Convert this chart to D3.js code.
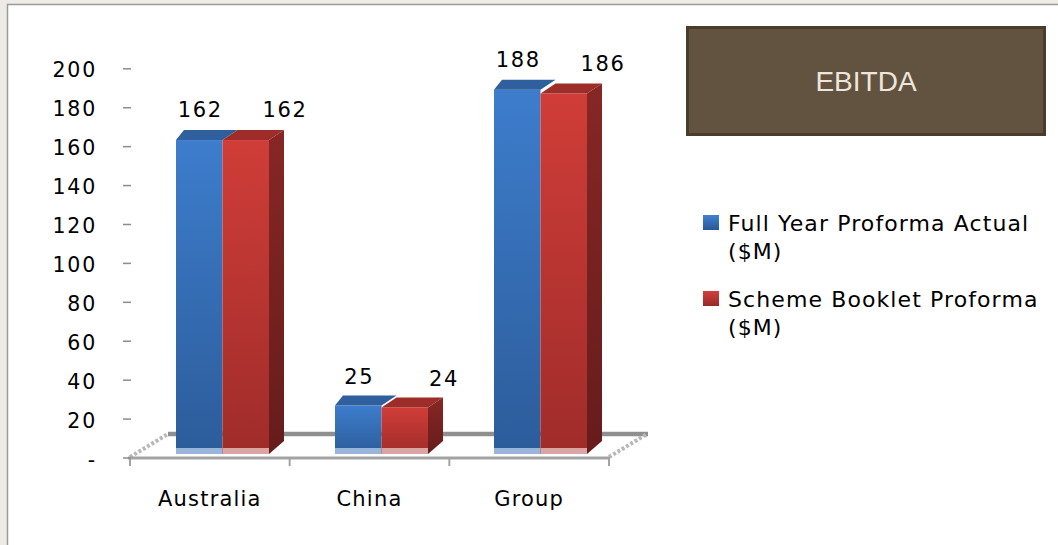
<!DOCTYPE html>
<html><head><meta charset="utf-8">
<script src="https://cdn.jsdelivr.net/npm/d3@7"></script>
<style>body{margin:0;background:#eeeae6}svg{display:block}</style>
</head><body><svg id="c" width="1058" height="545"></svg>
<script>
// ---- data ----
const categories = ["Australia", "China", "Group"];
const seriesNames = ["Full Year Proforma Actual ($M)", "Scheme Booklet Proforma ($M)"];
const fullYearActual = [162, 25, 188];
const schemeBooklet = [162, 24, 186];
const yTicks = [0, 20, 40, 60, 80, 100, 120, 140, 160, 180, 200];
const chartTitle = "EBITDA";

const seriesValues = [fullYearActual, schemeBooklet];
const FONT = "'DejaVu Sans', Verdana, sans-serif";

const svg = d3.select("#c");
svg.append("rect").attr("width", 1058).attr("height", 545).attr("fill", "#eeeae6");
svg.append("rect").attr("x", 7.5).attr("y", 4.5).attr("width", 1060).attr("height", 550)
  .attr("fill", "#fff").attr("stroke", "#9a9a9a").attr("stroke-width", 1.5);

// gradients
const defs = svg.append("defs");
function grad(id, c1, c2, horiz) {
  const g = defs.append("linearGradient").attr("id", id)
    .attr("x1", 0).attr("y1", 0).attr("x2", horiz ? 1 : 0).attr("y2", horiz ? 0 : 1);
  g.append("stop").attr("offset", "0%").attr("stop-color", c1);
  g.append("stop").attr("offset", "100%").attr("stop-color", c2);
}
grad("bFront", "#3d7dcc", "#2c5c9a");
grad("rFront", "#d03d38", "#9f2c2a");
grad("rSide", "#862725", "#661c1b");
grad("bLeg", "#4081d0", "#2a5896");
grad("rLeg", "#d4403b", "#962a28");

// scales
const y = d3.scaleLinear().domain([0, 200]).range([457.5, 68.3]);
const yBar = d3.scaleLinear().domain([0, 200]).range([454, 66.4]);
const xFloor = d3.scaleBand().domain(categories).range([130, 609]);
const xBar = d3.scaleBand().domain(categories).range([143, 620]).paddingInner(0.415).paddingOuter(0.2075);
const xSeries = d3.scaleBand().domain(d3.range(seriesNames.length)).range([0, xBar.bandwidth()]);

const depthX = 15, depthY = -10, depthXL = 8;
const floorDX = 38, floorDY = -24;
const floorY = 458;

// floor
const fl = svg.append("g");
const x0 = xFloor.range()[0], x1 = xFloor.range()[1];
fl.append("line").attr("x1", x0 + floorDX).attr("x2", x1 + floorDX + 1)
  .attr("y1", floorY + floorDY).attr("y2", floorY + floorDY)
  .attr("stroke", "#8f8f8f").attr("stroke-width", 4.5);
[x0, x1].forEach(xx => {
  fl.append("line").attr("x1", xx).attr("y1", floorY - 1).attr("x2", xx + floorDX).attr("y2", floorY + floorDY)
    .attr("stroke", "#b8b8b8").attr("stroke-width", 4).attr("stroke-dasharray", "3,2");
});
fl.append("line").attr("x1", x0 - 2).attr("x2", x1 + 1).attr("y1", floorY).attr("y2", floorY)
  .attr("stroke", "#a3a3a3").attr("stroke-width", 3);
categories.map(c => xFloor(c)).concat([x1]).forEach(xx => {
  fl.append("line").attr("x1", xx).attr("x2", xx).attr("y1", floorY).attr("y2", floorY + 8)
    .attr("stroke", "#a3a3a3").attr("stroke-width", 2);
});

// y axis
const ya = svg.append("g").attr("transform", "translate(131,0)")
  .call(d3.axisLeft(y).tickValues(yTicks).tickFormat(d => d === 0 ? "-" : d).tickSize(8).tickPadding(26));
ya.select(".domain").remove();
ya.selectAll(".tick line").attr("stroke", "#8c8c8c").attr("stroke-width", 1.5);
ya.selectAll(".tick text").attr("font-family", FONT).attr("font-size", 20.5).attr("fill", "#000")
  .attr("letter-spacing", 1.8).attr("dy", "0.42em");

// x axis labels
const xa = svg.append("g").attr("transform", `translate(0,${floorY})`)
  .call(d3.axisBottom(xFloor).tickSize(0).tickPadding(33));
xa.select(".domain").remove();
xa.selectAll(".tick text").attr("font-family", FONT).attr("font-size", 21).attr("fill", "#000")
  .attr("letter-spacing", 1.2);

// bars
const fronts = ["url(#bFront)", "url(#rFront)"];
const tops = ["#2f5f9d", "#9e2c29"];
const bands = ["#9ab5da", "#dba5a4"];
const bars = svg.append("g");
categories.forEach((c, ci) => {
  seriesValues.forEach((vals, si) => {
    const v = vals[ci];
    const xl = xBar(c) + xSeries(si), xr = xl + xSeries.bandwidth();
    const yt = yBar(v), yb = yBar(0);
    const last = si === seriesValues.length - 1;
    bars.append("rect").attr("x", xl).attr("y", yt).attr("width", xr - xl).attr("height", yb - yt)
      .attr("fill", fronts[si]);
    bars.append("rect").attr("x", xl).attr("y", yb - 6).attr("width", xr - xl).attr("height", 6)
      .attr("fill", bands[si]);
    const dl = si === 0 ? depthXL : depthX;
    bars.append("path").attr("d", `M${xl},${yt}L${xl + dl},${yt + depthY}L${xr + depthX},${yt + depthY}L${xr},${yt}Z`)
      .attr("fill", tops[si]);
    if (last) {
      bars.append("path").attr("d", `M${xr},${yt}L${xr + depthX},${yt + depthY}L${xr + depthX},${yb + depthY - 3}L${xr},${yb}Z`)
        .attr("fill", "url(#rSide)");
    }
    // value label
    const lx = last ? xr + depthX : (xl + xr) / 2;
    bars.append("text").attr("x", lx + 1).attr("y", y(v) - 25).attr("text-anchor", "middle")
      .attr("font-family", FONT).attr("font-size", 21).attr("letter-spacing", 1.6).attr("fill", "#000")
      .text(v);
  });
});

// title box
svg.append("rect").attr("x", 687.5).attr("y", 27.5).attr("width", 357).attr("height", 107)
  .attr("fill", "#625340").attr("stroke", "#4a3c2b").attr("stroke-width", 3);
svg.append("text").attr("x", 866).attr("y", 91).attr("text-anchor", "middle")
  .attr("font-family", "'Liberation Sans', Arial, sans-serif").attr("font-size", 28).attr("fill", "#eee6dc")
  .text(chartTitle);

// legend
const legFills = ["url(#bLeg)", "url(#rLeg)"];
seriesNames.forEach((name, i) => {
  const g = svg.append("g").attr("transform", `translate(703,${215 + i * 76})`);
  g.append("rect").attr("width", 16).attr("height", 15).attr("fill", legFills[i]);
  const idx = name.indexOf(" (");
  const lines = [name.slice(0, idx), name.slice(idx + 1)];
  lines.forEach((ln, li) => {
    g.append("text").attr("x", 25).attr("y", 16 + li * 28)
      .attr("font-family", FONT).attr("font-size", 22).attr("letter-spacing", 1.1).attr("fill", "#000")
      .text(ln);
  });
});
</script></body></html>
